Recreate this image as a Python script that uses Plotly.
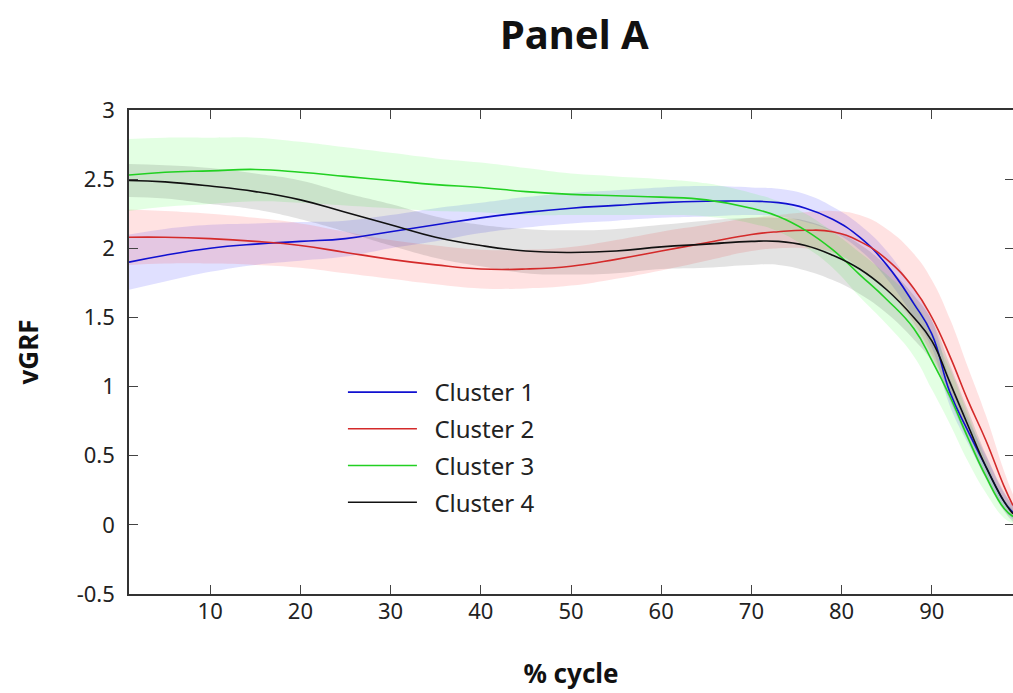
import plotly.graph_objects as go

# % cycle sample points
x_pct = [1, 5, 10, 15, 20, 25, 30, 35, 40, 45, 50, 55, 60, 65, 70, 73, 76, 79, 82, 85, 88, 90, 92, 94, 96, 98, 99]

# mean vGRF per cluster
c1_mean = [1.90, 1.95, 2.00, 2.03, 2.05, 2.07, 2.12, 2.17, 2.22, 2.26, 2.29, 2.31, 2.33, 2.34, 2.34, 2.33, 2.29, 2.21, 2.08, 1.88, 1.60, 1.38, 0.96, 0.68, 0.42, 0.17, 0.09]
c2_mean = [2.08, 2.08, 2.07, 2.05, 2.02, 1.97, 1.92, 1.88, 1.85, 1.85, 1.87, 1.92, 1.98, 2.04, 2.10, 2.12, 2.13, 2.12, 2.05, 1.92, 1.71, 1.50, 1.22, 0.90, 0.61, 0.28, 0.14]
c3_mean = [2.53, 2.55, 2.56, 2.57, 2.55, 2.52, 2.49, 2.46, 2.44, 2.41, 2.39, 2.38, 2.37, 2.35, 2.29, 2.23, 2.13, 1.99, 1.81, 1.63, 1.42, 1.19, 0.93, 0.63, 0.35, 0.12, 0.06]
c4_mean = [2.49, 2.48, 2.45, 2.41, 2.35, 2.26, 2.17, 2.08, 2.02, 1.98, 1.97, 1.98, 2.01, 2.03, 2.05, 2.05, 2.02, 1.95, 1.85, 1.70, 1.50, 1.33, 1.03, 0.72, 0.42, 0.17, 0.08]

# band half-widths (SD)
c1_sd = [0.20, 0.19, 0.17, 0.15, 0.14, 0.13, 0.12, 0.12, 0.11, 0.11, 0.11, 0.11, 0.11, 0.11, 0.10, 0.10, 0.10, 0.09, 0.09, 0.10, 0.10, 0.10, 0.10, 0.09, 0.08, 0.06, 0.05]
c2_sd = [0.20, 0.19, 0.18, 0.17, 0.16, 0.15, 0.14, 0.14, 0.14, 0.14, 0.14, 0.14, 0.14, 0.13, 0.12, 0.12, 0.13, 0.15, 0.19, 0.22, 0.25, 0.27, 0.27, 0.24, 0.18, 0.11, 0.08]
c3_sd = [0.26, 0.25, 0.24, 0.23, 0.22, 0.21, 0.20, 0.19, 0.18, 0.17, 0.15, 0.14, 0.13, 0.12, 0.11, 0.11, 0.12, 0.13, 0.16, 0.18, 0.20, 0.21, 0.20, 0.17, 0.12, 0.07, 0.05]
c4_sd = [0.12, 0.12, 0.13, 0.13, 0.14, 0.14, 0.15, 0.15, 0.15, 0.16, 0.16, 0.16, 0.16, 0.17, 0.17, 0.17, 0.18, 0.18, 0.18, 0.17, 0.16, 0.15, 0.13, 0.11, 0.09, 0.07, 0.06]

names = ["Cluster 1", "Cluster 2", "Cluster 3", "Cluster 4"]
x_ticks = [10, 20, 30, 40, 50, 60, 70, 80, 90]
y_ticks = [-0.5, 0, 0.5, 1, 1.5, 2, 2.5, 3]
y_ticklabels = ["-0.5", "0", "0.5", "1", "1.5", "2", "2.5", "3"]

means = [c1_mean, c2_mean, c3_mean, c4_mean]
sds = [c1_sd, c2_sd, c3_sd, c4_sd]
line_colors = ["#1010d0", "#d42a2a", "#22d022", "#111111"]
band_colors = ["rgba(60,60,255,0.16)", "rgba(255,60,60,0.15)", "rgba(60,255,60,0.14)", "rgba(0,0,0,0.11)"]

fig = go.Figure()

for m, s, bc in zip(means, sds, band_colors):
    lower = [a - b for a, b in zip(m, s)]
    upper = [a + b for a, b in zip(m, s)]
    fig.add_trace(go.Scatter(x=x_pct, y=lower, mode="lines",
                             line=dict(width=0, shape="spline", smoothing=1.3),
                             showlegend=False, hoverinfo="skip"))
    fig.add_trace(go.Scatter(x=x_pct, y=upper, mode="lines",
                             line=dict(width=0, shape="spline", smoothing=1.3),
                             fill="tonexty", fillcolor=bc, showlegend=False, hoverinfo="skip"))

for i, (m, n, lc) in enumerate(zip(means, names, line_colors)):
    fig.add_trace(go.Scatter(x=x_pct, y=m, mode="lines", name="\u00a0\u00a0" + n, legendgroup=n,
                             line=dict(color=lc, width=1.6, shape="spline", smoothing=1.3)))

# empty trace so the right-hand tick axis gets drawn
fig.add_trace(go.Scatter(x=[], y=[], xaxis="x", yaxis="y2", showlegend=False, hoverinfo="skip"))

tickfont = dict(family="Noto Sans", size=22, color="#222")
fig.update_layout(
    width=1013, height=693,
    margin=dict(l=129, r=0, t=110, b=99),
    paper_bgcolor="white", plot_bgcolor="white",
    title=dict(text="<b>Panel A</b>", x=0.567, xanchor="center", y=0.95, yanchor="middle",
               font=dict(family="Noto Sans", size=40, color="#111")),
    legend=dict(x=0.242, y=0.4628, xanchor="left", yanchor="top",
                font=dict(family="Noto Sans", size=24, color="#222"),
                bgcolor="rgba(255,255,255,0)", tracegroupgap=2.5, itemwidth=69),
    xaxis=dict(range=[1, 99], tickvals=x_ticks, ticks="inside", ticklen=9, tickwidth=1.3,
               tickcolor="#444", showline=True, mirror="ticks", linecolor="#333", linewidth=1.5,
               showgrid=False, zeroline=False, tickfont=tickfont, ticklabelstandoff=-3,
               automargin=False,
               title=dict(text="<b>% cycle</b>", font=dict(family="Noto Sans", size=26, color="#111"),
                          standoff=41)),
    yaxis=dict(range=[-0.5, 3], tickvals=y_ticks, ticktext=y_ticklabels, ticks="inside",
               ticklen=9, tickwidth=1.3, tickcolor="#444", showline=True, linecolor="#333",
               linewidth=1.5, showgrid=False, zeroline=False, tickfont=tickfont,
               ticklabelstandoff=8, automargin=False,
               title=dict(text="<b>vGRF</b>", font=dict(family="Noto Sans", size=26, color="#111"),
                          standoff=31)),
    yaxis2=dict(range=[-0.5, 3], tickvals=y_ticks, overlaying="y", side="right", anchor="x",
                ticks="inside", ticklen=8, tickwidth=1.3, tickcolor="#444", showline=False,
                showticklabels=False, showgrid=False, zeroline=False, automargin=False),
)

fig.write_html("out.html", config={"displayModeBar": False},
               post_script="document.body.style.margin='0';document.body.style.overflow='hidden';")
